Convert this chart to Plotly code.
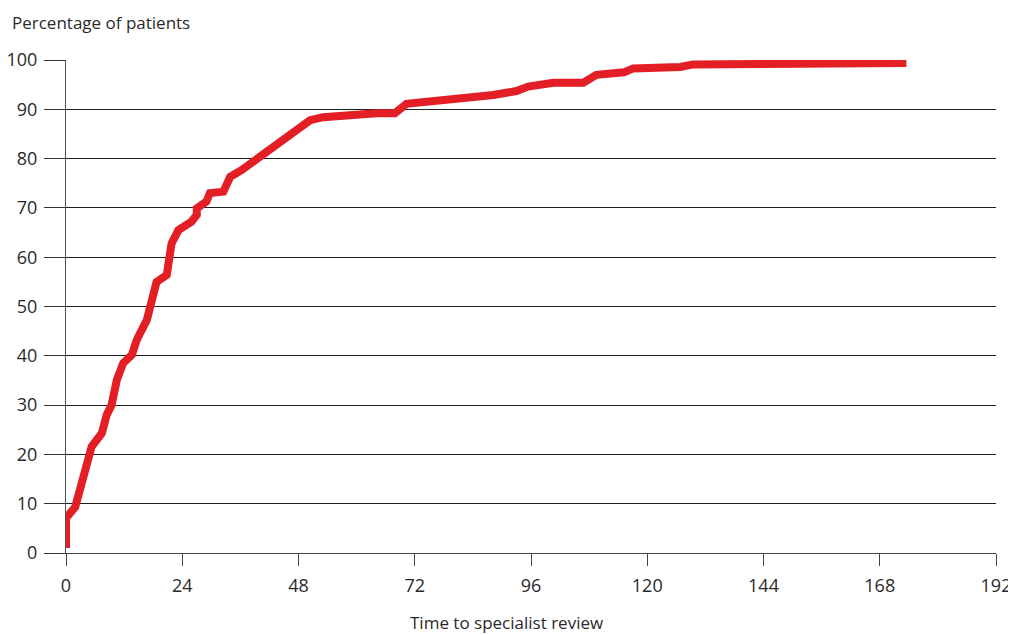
import plotly.graph_objects as go

hours = [0, 0, 1.9, 5.3, 7.4, 8.4, 9.4, 10.5, 11.8, 13.6, 14.6, 16.7, 18.7, 20.8, 21.8,
         23.2, 25.9, 27.0, 27.0, 29.0, 29.7, 32.5, 33.9, 36.3, 50.4, 53.1, 64.1, 67.9,
         70.3, 77.2, 88.2, 93.0, 95.4, 100.6, 106.8, 109.5, 115.2, 117.1, 126.8, 129.5,
         147.4, 173.5]
percent = [1, 7.1, 9.3, 21.6, 24.3, 28, 30, 35.1, 38.5, 40.2, 43.2, 47.3, 55, 56.4, 62.8,
           65.5, 67.2, 68.6, 69.9, 71.3, 73, 73.3, 76.3, 77.7, 87.8, 88.4, 89.2, 89.2,
           91.1, 91.7, 92.9, 93.7, 94.6, 95.4, 95.4, 97, 97.5, 98.3, 98.6, 99.1,
           99.1, 99.4]
x_ticks = [0, 24, 48, 72, 96, 120, 144, 168, 192]
y_ticks = [0, 10, 20, 30, 40, 50, 60, 70, 80, 90, 100]

font_family = "Open Sans, Noto Sans, sans-serif"
text_color = "#2a2a2a"

# the page adds an 8px margin around the figure
W, H = 1016, 635
L, T = 58, 52
PW, PH = 930, 493
R, B = W - L - PW, H - T - PH

fig = go.Figure()
fig.add_trace(go.Scatter(
    x=hours, y=percent, mode="lines",
    line=dict(color="#e31e25", width=8),
    hoverinfo="x+y", showlegend=False,
))

fig.update_layout(
    width=W, height=H,
    margin=dict(l=L, r=R, t=T, b=B, autoexpand=False),
    paper_bgcolor="white", plot_bgcolor="white",
    font=dict(family=font_family, size=17, color=text_color),
    xaxis=dict(
        range=[0, 192], tickvals=x_ticks, ticktext=[str(v) for v in x_ticks],
        showgrid=False, zeroline=False, showline=True, linecolor="#444444", linewidth=1,
        ticks="outside", ticklen=12, tickcolor="#444444", tickwidth=1,
        ticklabelstandoff=4,
        tickfont=dict(size=18, color=text_color),
    ),
    yaxis=dict(
        range=[0, 100], tickvals=y_ticks, ticktext=[str(v) for v in y_ticks],
        showgrid=True, gridcolor="#1e1e1e", gridwidth=1, zeroline=False,
        showline=True, linecolor="#555555", linewidth=1,
        ticks="outside", ticklen=21, tickcolor="#333333", tickwidth=1,
        ticklabelstandoff=3,
        tickfont=dict(size=18, color=text_color),
    ),
    annotations=[
        dict(text="Percentage of patients", xref="paper", yref="paper",
             x=(2 - L) / PW, y=1 + (T - 1) / PH, xanchor="left", yanchor="top",
             showarrow=False, font=dict(size=17, color=text_color)),
        dict(text="Time to specialist review", xref="paper", yref="paper",
             x=(498 - L) / PW, y=-(614 - (T + PH)) / PH, xanchor="center", yanchor="middle",
             showarrow=False, font=dict(size=17, color=text_color)),
    ],
)

fig.write_html("out.html")
